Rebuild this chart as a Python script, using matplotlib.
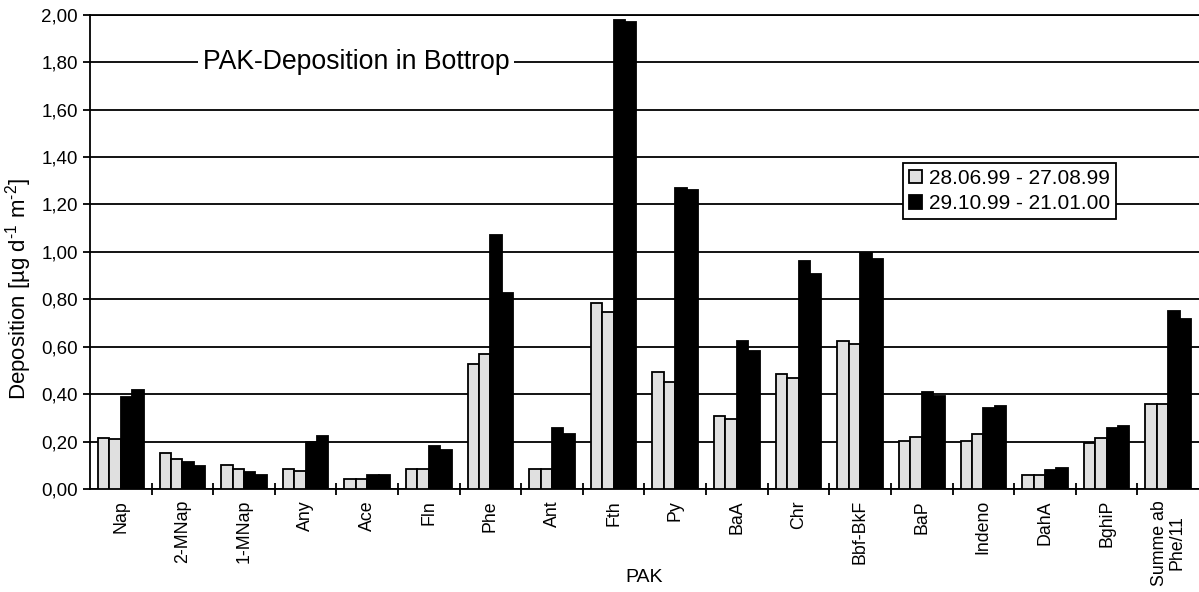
import numpy as np
import matplotlib.pyplot as plt
from matplotlib.ticker import FuncFormatter, FixedLocator
from matplotlib.patches import Patch

plt.rcParams['font.family'] = ['Liberation Sans', 'DejaVu Sans']
plt.rcParams['mathtext.fontset'] = 'custom'
plt.rcParams['mathtext.rm'] = 'Liberation Sans'
plt.rcParams['mathtext.it'] = 'Liberation Sans'

categories = ['Nap', '2-MNap', '1-MNap', 'Any', 'Ace', 'Fln', 'Phe', 'Ant', 'Fth', 'Py',
              'BaA', 'Chr', 'Bbf-BkF', 'BaP', 'Indeno', 'DahA', 'BghiP', 'Summe ab\nPhe/11']

# 28.06.99 - 27.08.99 (two samplers)
summer_1 = [0.217, 0.153, 0.102, 0.085, 0.043, 0.085, 0.528, 0.085, 0.783, 0.494,
            0.308, 0.485, 0.623, 0.204, 0.204, 0.060, 0.196, 0.357]
summer_2 = [0.209, 0.128, 0.085, 0.077, 0.043, 0.085, 0.569, 0.085, 0.748, 0.450,
            0.296, 0.468, 0.611, 0.221, 0.231, 0.060, 0.213, 0.357]
# 29.10.99 - 21.01.00 (two samplers)
winter_1 = [0.386, 0.113, 0.071, 0.197, 0.061, 0.180, 1.070, 0.257, 1.976, 1.271,
            0.624, 0.961, 0.994, 0.409, 0.343, 0.078, 0.257, 0.752]
winter_2 = [0.418, 0.095, 0.061, 0.223, 0.061, 0.163, 0.828, 0.231, 1.968, 1.263,
            0.582, 0.905, 0.969, 0.394, 0.350, 0.087, 0.267, 0.718]

light = '#e0e0e0'
w = 0.185
x = np.arange(len(categories))

fig = plt.figure(figsize=(11.99, 5.92), dpi=100)
ax = fig.add_axes([0.075, 0.174, 0.925, 0.801])

ax.set_ylim(0, 2.0)
ax.set_xlim(-0.5, len(categories) - 0.5)
ax.set_yticks(np.arange(0, 2.01, 0.2))
ax.yaxis.set_major_formatter(FuncFormatter(lambda v, p: f'{v:.2f}'.replace('.', ',')))
ax.yaxis.grid(True, color='black', linewidth=1.3)
ax.set_axisbelow(True)

for vals, off, col in [(summer_1, -1.5, light), (summer_2, -0.5, light),
                       (winter_1, 0.5, 'black'), (winter_2, 1.5, 'black')]:
    ax.bar(x + off * w, vals, width=w, color=col, edgecolor='black', linewidth=1.3, zorder=3)

ax.set_xticks(x)
ax.set_xticklabels(categories, rotation=90, fontsize=12.8, va='top', ha='center',
                   multialignment='center', linespacing=1.0)
ax.tick_params(axis='x', which='major', length=0, pad=8)
ax.xaxis.set_minor_locator(FixedLocator(np.arange(0.5, len(categories) - 1, 1.0)))
ax.tick_params(axis='x', which='minor', direction='inout', length=8, width=1.3, color='black')
ax.tick_params(axis='y', direction='out', length=5, width=1.3, labelsize=13.5)

for s in ['left', 'bottom', 'top']:
    ax.spines[s].set_linewidth(1.3)
    ax.spines[s].set_color('black')
ax.spines['right'].set_visible(False)

ax.set_ylabel('Deposition [µg d$^{\\text{-1}}$ m$^{\\text{-2}}$]', fontsize=16)
ax.yaxis.set_label_coords(-0.05, 0.422)
ax.set_xlabel('PAK', fontsize=14)
ax.xaxis.set_label_coords(0.5, -0.168)

ax.text(1.33, 1.80, 'PAK-Deposition in Bottrop', fontsize=19.2, va='center', ha='left',
        bbox=dict(facecolor='white', edgecolor='none', pad=3), zorder=4)

handles = [Patch(facecolor=light, edgecolor='black', linewidth=1.3, label='28.06.99 - 27.08.99'),
           Patch(facecolor='black', edgecolor='black', linewidth=1.3, label='29.10.99 - 21.01.00')]
leg = ax.legend(handles=handles, loc='upper left', bbox_to_anchor=(0.733, 0.688),
                borderaxespad=0, fontsize=15, fancybox=False, framealpha=1,
                handlelength=0.63, handleheight=0.63, handletextpad=0.3,
                borderpad=0.3, labelspacing=0.3)
leg.get_frame().set_edgecolor('black')
leg.get_frame().set_linewidth(1.3)
leg.set_zorder(5)

fig.savefig('out.png', dpi=100)
